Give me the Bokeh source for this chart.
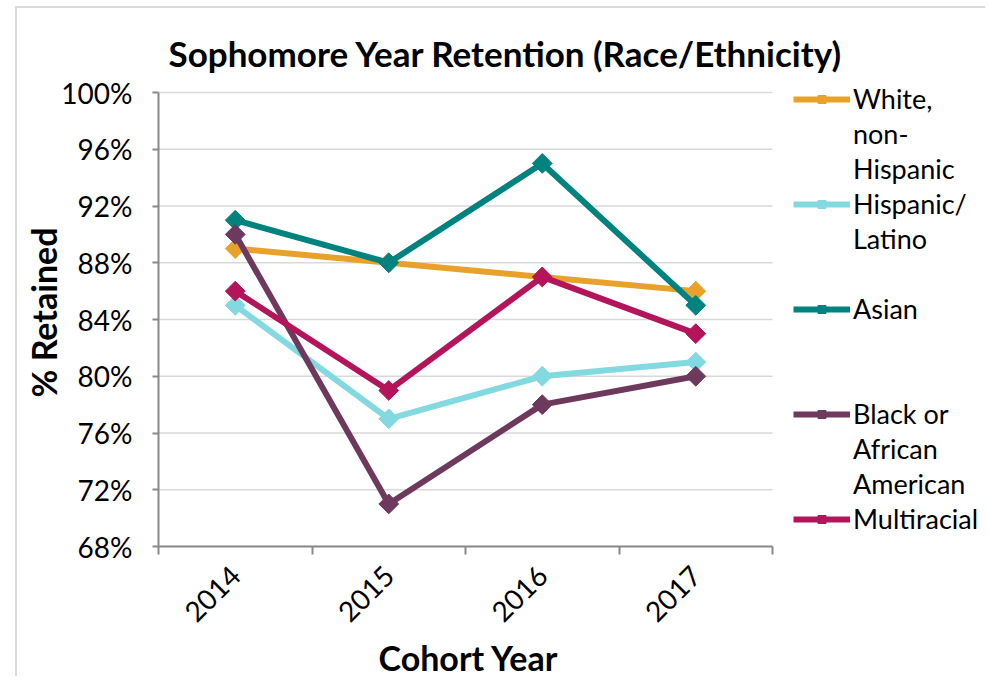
import math
from bokeh.plotting import figure
from bokeh.models import (FixedTicker, Legend, LegendItem, Range1d, PrintfTickFormatter,
                          ColumnDataSource, Title)
from bokeh.embed import file_html
from bokeh.resources import INLINE

years = ["2014", "2015", "2016", "2017"]
white = [89, 88, 87, 86]
hispanic = [85, 77, 80, 81]
asian = [91, 88, 95, 85]
black = [90, 71, 78, 80]
multiracial = [86, 79, 87, 83]
series_labels = ["White,\nnon-\nHispanic", "Hispanic/\nLatino", "Asian",
                 "Black or\nAfrican\nAmerican", "Multiracial"]
series_values = [white, hispanic, asian, black, multiracial]
colors = ["#E8A22B", "#82D9DF", "#00837F", "#6D3A5D", "#B3145A"]
y_ticks = [68, 72, 76, 80, 84, 88, 92, 96, 100]
# blank legend rows after each entry (layout of the legend column)
legend_gaps = [0, 1, 2, 0, 0]

FONT = "Lato"
n = len(years)
x_pos = [i + 0.5 for i in range(n)]
y_min, y_max = y_ticks[0], y_ticks[-1]

# layout (pixels)
W, H = 970, 670
LEFT, TOP, BOTTOM = 141, 70, 132
PLOT_W, PLOT_H = 614, 454          # size of the data area proper
frame_w = W - LEFT
frame_h = H - TOP - BOTTOM
x_end = n * frame_w / PLOT_W       # frame extended to the right to hold the legend
y_end = y_min + (y_max - y_min) * frame_h / PLOT_H

p = figure(width=W, height=H, output_backend="svg", toolbar_location=None,
           x_range=Range1d(0, x_end), y_range=Range1d(y_min, y_end),
           min_border_left=LEFT, min_border_right=0, min_border_top=TOP, min_border_bottom=BOTTOM,
           styles={"margin-left": "15px", "margin-top": "6px",
                   "border-left": "2px solid #D9D9D9", "border-top": "2px solid #D9D9D9"})
p.outline_line_color = None
p.background_fill_color = "white"
p.border_fill_color = "white"

p.title.text = "Sophomore Year Retention (Race/Ethnicity)"
p.title.align = "left"
p.title.offset = 10
p.title.text_font = FONT
p.title.text_font_style = "bold"
p.title.text_font_size = "35px"
p.title.text_color = "black"
p.title.standoff = 10

# x axis
xa = p.xaxis[0]
xa.bounds = (0, n)
xa.ticker = FixedTicker(ticks=x_pos, minor_ticks=list(range(n + 1)))
xa.major_label_overrides = {x: y for x, y in zip(x_pos, years)}
xa.major_tick_out = 0
xa.major_tick_in = 0
xa.minor_tick_out = 8
xa.minor_tick_in = 0
xa.minor_tick_line_color = "#898989"
xa.minor_tick_line_width = 2
xa.axis_line_color = "#898989"
xa.axis_line_width = 2
xa.major_label_orientation = math.pi / 4
xa.major_label_text_font = FONT
xa.major_label_text_font_size = "28px"
xa.major_label_text_color = "black"
xa.major_label_standoff = 16

# x axis title, centred under the category span
x_title = Title(text="Cohort Year", align="left", offset=220, standoff=0,
                text_font=FONT, text_font_style="bold", text_font_size="34px",
                text_color="black")
p.add_layout(x_title, "below")

# y axis
ya = p.yaxis[0]
ya.bounds = (y_min, y_max)
ya.ticker = FixedTicker(ticks=y_ticks)
ya.formatter = PrintfTickFormatter(format="%d%%")
ya.major_tick_out = 6
ya.major_tick_in = 0
ya.minor_tick_out = 0
ya.minor_tick_in = 0
ya.major_tick_line_color = "#898989"
ya.major_tick_line_width = 2
ya.axis_line_color = "#898989"
ya.axis_line_width = 2
ya.major_label_text_font = FONT
ya.major_label_text_font_size = "28px"
ya.major_label_text_color = "black"
ya.major_label_standoff = 20
ya.axis_label = "% Retained"
ya.axis_label_text_font = FONT
ya.axis_label_text_font_style = "bold"
ya.axis_label_text_font_size = "34px"
ya.axis_label_text_color = "black"
ya.axis_label_standoff = -6

p.xgrid.visible = False
p.ygrid.visible = False
# horizontal gridlines limited to the category span
grid_src = ColumnDataSource(dict(x0=[0] * len(y_ticks), x1=[n] * len(y_ticks), y=y_ticks))
p.segment(x0="x0", x1="x1", y0="y", y1="y", source=grid_src, line_color="#D9D9D9", line_width=1.5)

items = []
for label, vals, col, gap in zip(series_labels, series_values, colors, legend_gaps):
    src = ColumnDataSource(dict(x=x_pos, y=vals))
    ln = p.line("x", "y", source=src, line_color=col, line_width=6)
    mk = p.scatter("x", "y", source=src, marker="square", angle=math.pi / 4, size=14,
                   fill_color=col, line_color=col)
    lines = label.split("\n")
    items.append(LegendItem(label=lines[0], renderers=[ln, mk]))
    for extra in lines[1:]:
        items.append(LegendItem(label=extra, renderers=[]))
    for _ in range(gap):
        items.append(LegendItem(label=" ", renderers=[]))

legend = Legend(items=items, location=(635, 10), ncols=1)
legend.label_text_font = FONT
legend.label_text_font_size = "27px"
legend.label_text_color = "black"
legend.label_height = 35
legend.glyph_width = 57
legend.glyph_height = 20
legend.label_standoff = 3
legend.spacing = 0
legend.padding = 0
legend.margin = 0
legend.border_line_color = None
legend.background_fill_alpha = 0
p.add_layout(legend, "center")

open("out.html", "w").write(file_html(p, INLINE))
